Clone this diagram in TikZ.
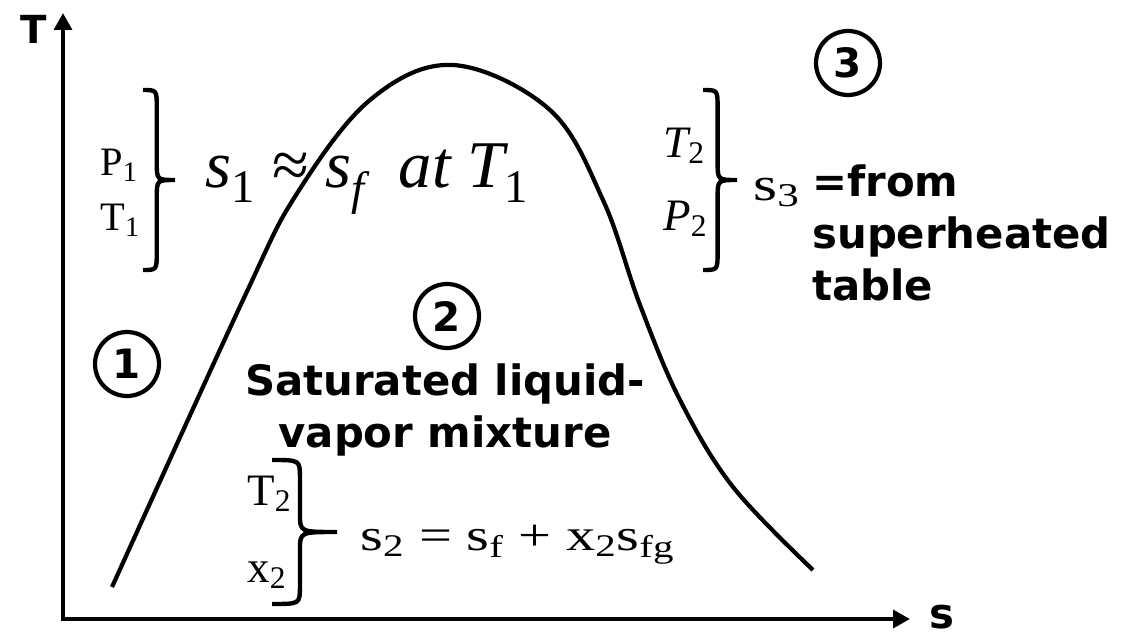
\documentclass[tikz,border=0pt]{standalone}
\usepackage{fontspec}
\setmainfont{Liberation Serif}
\setsansfont{DejaVu Sans}
\newfontfamily\wideserif[FakeStretch=1.3]{Liberation Serif}
\usetikzlibrary{arrows.meta}
\tikzset{
  axisline/.style={line width=2.6pt, line join=miter, >={Triangle[length=9.6pt,width=10pt]}, <->},
  dome/.style={line width=2.4pt},
  curly/.style={line width=2.5pt},
  statecirc/.style={circle, draw, line width=2.4pt, minimum size=1.28cm, inner sep=0pt,
    font=\sffamily\bfseries\fontsize{23}{27}\selectfont},
  boldtxt/.style={inner sep=0pt, font=\sffamily\bfseries\fontsize{23.8}{29.5}\selectfont},
  serifeq/.style={inner sep=0pt, anchor=base west, font=\fontsize{25.6}{30}\selectfont},
}
\begin{document}
\begin{tikzpicture}[x=0.02cm, y=-0.02cm]
    \useasboundingbox (0,0) rectangle (1122,636);
    % axes
    \coordinate (O) at (63,619);
    \coordinate (Ttop) at (63,13);
    \coordinate (sEnd) at (910,619);
    \draw[axisline] (Ttop) -- (O) -- (sEnd);
    \node[boldtxt, font=\sffamily\bfseries\fontsize{22}{26}\selectfont] (lblT) at (34,29) {T};
    \node[boldtxt] (lbls) at (942,617) {s};
    % saturation dome
    \draw[dome] plot[smooth, tension=0.6] coordinates {(112,587) (243,300) (296,195)
      (370,100) (453,65) (550,110) (603,200) (640,305) (680,400) (733,487) (813,570)};
    % braces
    \foreach \bx/\btop/\bbot/\bw in {143/90/270/32, 703/90/270/34, 272/460/604/65} {
      \pgfmathsetmacro\bv{\bx+0.43*\bw}
      \pgfmathsetmacro\bm{(\btop+\bbot)/2}
      \draw[curly] (\bx,\btop) .. controls (\bv,\btop) .. (\bv,\btop+18) -- (\bv,\bm-18)
        .. controls (\bv,\bm) .. (\bx+\bw,\bm) .. controls (\bv,\bm) .. (\bv,\bm+18)
        -- (\bv,\bbot-18) .. controls (\bv,\bbot) .. (\bx,\bbot);
    }
    % states
    \node[statecirc] (c1) at (127,364) {1};
    \node[statecirc] (c2) at (447,316) {2};
    \node[statecirc] (c3) at (848,63) {3};
    % state 1
    \node[serifeq, font=\fontsize{23}{27}\selectfont] (p1) at (100,175) {P\textsubscript{1}};
    \node[serifeq, font=\fontsize{23}{27}\selectfont] (t1) at (100,230) {T\textsubscript{1}};
    \node[serifeq, font=\fontsize{38}{44}\selectfont] (eq1) at (205,187)
      {{\itshape s}\textsubscript{1} ≈ {\itshape s}\textsubscript{\itshape f}\hspace{0.5em}{\itshape at T}\textsubscript{1}};
    % state 2
    \node[boldtxt, align=center, anchor=base] (mix) at (445,447) {Saturated liquid-\\vapor mixture};
    \node[serifeq] (t2b) at (247,505) {T\textsubscript{2}};
    \node[serifeq] (x2) at (247,582) {x\textsubscript{2}};
    \node[serifeq, font=\wideserif\fontsize{25.6}{30}\selectfont] (eq2) at (360,550)
      {s\textsubscript{2} = s\textsubscript{f} + x\textsubscript{2}s\textsubscript{fg}};
    % state 3
    \node[serifeq] (t2) at (663,157) {{\itshape T}\textsubscript{2}};
    \node[serifeq] (p2) at (663,230) {{\itshape P}\textsubscript{2}};
    \node[serifeq, font=\wideserif\fontsize{27}{32}\selectfont] (s3) at (753,200) {s\textsubscript{3}};
    \node[boldtxt, align=left, anchor=base west] (tbl) at (812,300) {=from\\superheated\\table};
\end{tikzpicture}
\end{document}
